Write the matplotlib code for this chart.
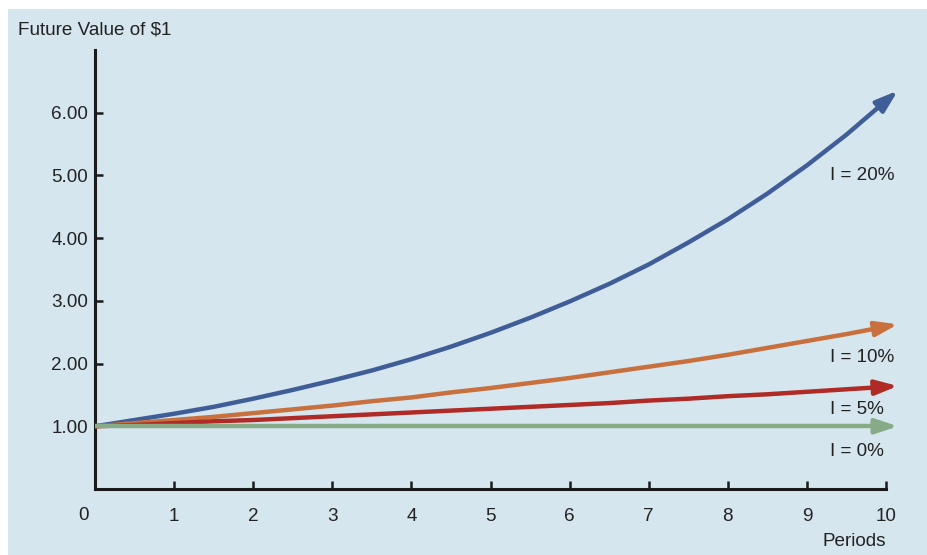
import numpy as np
import matplotlib.pyplot as plt
from matplotlib.patches import Rectangle
from matplotlib.transforms import offset_copy

plt.rcParams['font.family'] = ['Liberation Sans', 'DejaVu Sans']

# values (future value of $1), every half period
periods = [0, 0.5, 1, 1.5, 2, 2.5, 3, 3.5, 4, 4.5, 5, 5.5, 6, 6.5, 7, 7.5, 8, 8.5, 9, 9.5, 10]
fv_20 = [1.00, 1.10, 1.20, 1.31, 1.44, 1.58, 1.73, 1.89, 2.07, 2.27, 2.49,
         2.73, 2.99, 3.27, 3.58, 3.93, 4.30, 4.71, 5.16, 5.65, 6.19]
fv_10 = [1.00, 1.05, 1.10, 1.15, 1.21, 1.27, 1.33, 1.40, 1.46, 1.54, 1.61,
         1.69, 1.77, 1.86, 1.95, 2.04, 2.14, 2.25, 2.36, 2.47, 2.59]
fv_5 = [1.00, 1.02, 1.05, 1.08, 1.10, 1.13, 1.16, 1.19, 1.22, 1.25, 1.28,
        1.31, 1.34, 1.37, 1.41, 1.44, 1.48, 1.51, 1.55, 1.59, 1.63]
fv_0 = [1.00] * 21
rate_labels = ['I = 20%', 'I = 10%', 'I = 5%', 'I = 0%']
xtick_vals = [1, 2, 3, 4, 5, 6, 7, 8, 9, 10]
ytick_vals = [1, 2, 3, 4, 5, 6]
ytick_labels = ['1.00', '2.00', '3.00', '4.00', '5.00', '6.00']

bg = '#d6e6ef'
colors = ['#3f5e98', '#c8703e', '#b02a26', '#86ab86']
fs = 13.6

fig = plt.figure(figsize=(9.27, 5.55), dpi=100, facecolor='white')
fig.add_artist(Rectangle((8 / 927, 0), 1, 546 / 555, transform=fig.transFigure,
                         facecolor=bg, edgecolor='none', zorder=-5))
ax = fig.add_axes([95 / 927, 66 / 555, 791 / 927, 439 / 555])
ax.set_zorder(2)
ax.set_facecolor('none')

series = [fv_20, fv_10, fv_5, fv_0]
label_y = [5.0, 2.1, 1.26, 0.6]
for vals, col, lab, ly in zip(series, colors, rate_labels, label_y):
    x = np.array(periods, dtype=float)
    y = np.array(vals)
    ax.plot(x, y, color=col, lw=3.2, solid_capstyle='butt', solid_joinstyle='round', zorder=3)
    # arrow head continuing the last segment a little past period 10
    slope = (y[-1] - y[-2]) / (x[-1] - x[-2])
    ax.annotate('', xy=(x[-1] + 0.15, y[-1] + slope * 0.15),
                xytext=(x[-1] - 0.1, y[-1] - slope * 0.1),
                arrowprops=dict(arrowstyle='-|>,head_length=1.35,head_width=0.45',
                                color=col, lw=3.0, shrinkA=0, shrinkB=0),
                zorder=4, annotation_clip=False)
    ax.text(9.29, ly, lab, fontsize=fs, color='#222222', va='center', ha='left')

ax.set_xlim(0, 10)
ax.set_ylim(0, 7)
for s in ['top', 'right']:
    ax.spines[s].set_visible(False)
for s in ['left', 'bottom']:
    ax.spines[s].set_linewidth(2.2)
    ax.spines[s].set_color('#1a1a1a')

ax.set_xticks(xtick_vals)
ax.set_xticklabels([str(p) for p in xtick_vals], fontsize=fs, color='#222222')
ax.set_yticks(ytick_vals)
ax.set_yticklabels(ytick_labels, fontsize=fs, color='#222222')
ax.tick_params(axis='x', direction='in', length=6, width=1.8, pad=14, color='#1a1a1a')
ax.tick_params(axis='y', direction='in', length=6, width=1.8, pad=5, color='#1a1a1a')

# origin label sits a bit left of the y axis
zero_tr = offset_copy(ax.get_xaxis_transform(), fig=fig, x=-8, y=-19, units='points')
ax.text(0, 0, '0', transform=zero_tr, fontsize=fs, color='#222222', ha='center', va='center')

fig.text(18 / 927, 1 - 30 / 555, 'Future Value of $1', fontsize=fs, color='#222222',
         va='center', ha='left')
fig.text(886 / 927, 1 - 542 / 555, 'Periods', fontsize=fs, color='#222222',
         va='center', ha='right')

fig.savefig('out.png', dpi=100, facecolor='white')
